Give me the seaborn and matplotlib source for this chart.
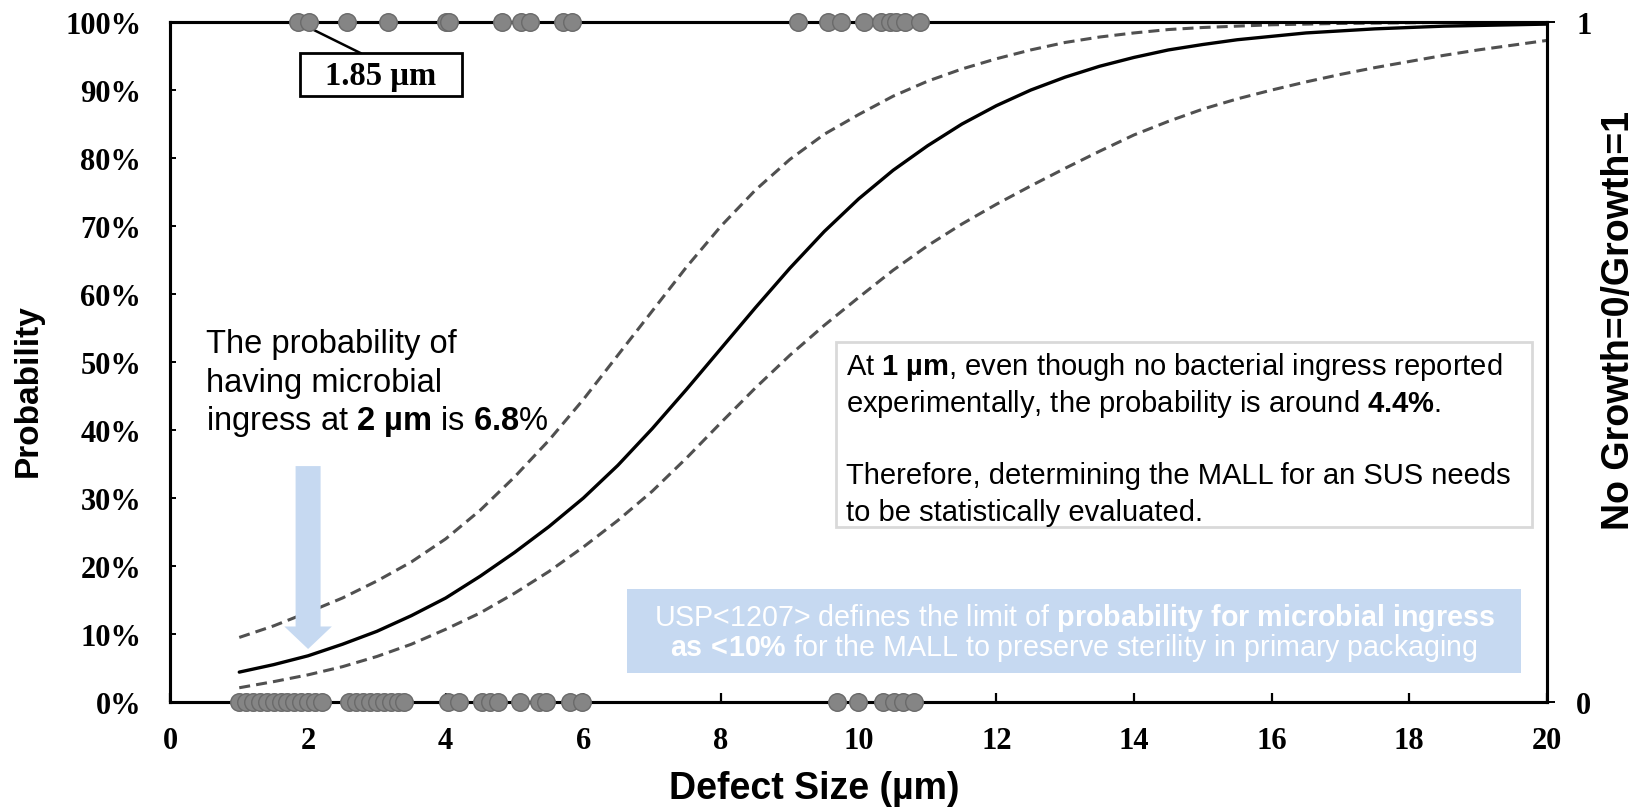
import numpy as np
import pandas as pd
import matplotlib
matplotlib.use("Agg")
import matplotlib.pyplot as plt
import seaborn as sns
from matplotlib.patches import Rectangle

# ---------------- data ----------------
defect_size = [1.0, 1.5, 2.0, 2.5, 3.0, 3.5, 4.0, 4.5, 5.0, 5.5, 6.0, 6.5, 7.0, 7.5,
               8.0, 8.5, 9.0, 9.5, 10.0, 10.5, 11.0, 11.5, 12.0, 12.5, 13.0, 13.5,
               14.0, 14.5, 15.0, 15.5, 16.0, 16.5, 17.0, 17.5, 18.0, 18.5, 19.0,
               19.5, 20.0]
prob_fit = [4.4, 5.5, 6.8, 8.5, 10.4, 12.7, 15.3, 18.5, 22.0, 25.8, 30.0, 34.8,
            40.2, 46.0, 52.0, 58.0, 63.8, 69.2, 74.0, 78.2, 81.8, 85.0, 87.7,
            90.0, 91.9, 93.5, 94.8, 95.9, 96.7, 97.4, 97.9, 98.4, 98.7, 99.0,
            99.2, 99.4, 99.5, 99.6, 99.7]
prob_upper = [9.5, 11.2, 13.2, 15.3, 17.8, 20.6, 24.0, 28.2, 33.1, 38.5, 44.5,
              51.0, 57.5, 64.0, 70.0, 75.3, 79.8, 83.5, 86.4, 89.1, 91.3, 93.1,
              94.6, 95.9, 97.0, 97.8, 98.4, 98.9, 99.2, 99.4, 99.6, 99.7, 99.8,
              99.85, 99.9, 99.95, 100.0, 100.0, 100.0]
prob_lower = [2.1, 3.0, 4.0, 5.2, 6.7, 8.5, 10.7, 13.1, 16.0, 19.2, 22.8, 26.7,
              31.0, 35.9, 41.1, 46.2, 51.0, 55.4, 59.5, 63.5, 67.1, 70.3, 73.2,
              75.9, 78.5, 81.0, 83.4, 85.4, 87.2, 88.7, 90.0, 91.2, 92.3, 93.3,
              94.2, 95.1, 95.9, 96.6, 97.3]

growth_sizes = [1.85, 2.02, 2.56, 3.16, 4.0, 4.05, 4.82, 5.1, 5.22, 5.7, 5.84,
                9.12, 9.55, 9.75, 10.08, 10.33, 10.45, 10.54, 10.68, 10.89]
no_growth_sizes = [1.0, 1.1, 1.2, 1.3, 1.4, 1.5, 1.6, 1.7, 1.8, 1.9, 2.0, 2.1, 2.2,
                   2.6, 2.7, 2.8, 2.9, 3.0, 3.1, 3.2, 3.3, 3.4,
                   4.04, 4.19, 4.53, 4.65, 4.76, 5.08, 5.35, 5.45, 5.81, 5.98,
                   9.69, 9.99, 10.36, 10.51, 10.65, 10.8]

x_ticks = [0, 2, 4, 6, 8, 10, 12, 14, 16, 18, 20]
y_ticks = [0, 10, 20, 30, 40, 50, 60, 70, 80, 90, 100]
y2_ticks = [0, 1]

highlight_size = 1.85

left_lines = ["The probability of",
              "having microbial",
              "ingress at $\\mathbf{2\\ µm}$ is $\\mathbf{6.8}$%"]
right_lines = ["At $\\mathbf{1\\ µm}$, even though no bacterial ingress reported",
               "experimentally, the probability is around $\\mathbf{4.4\\%}$.",
               "Therefore, determining the MALL for an SUS needs",
               "to be statistically evaluated."]
usp_lines = ["USP<1207> defines the limit of $\\mathbf{probability\\ for\\ microbial\\ ingress}$",
             "$\\mathbf{as\\,<\\!10\\%}$ for the MALL to preserve sterility in primary packaging"]

# ---------------- style ----------------
sns.set_theme(style="ticks")
plt.rcParams["font.family"] = ["Liberation Sans", "DejaVu Sans"]
plt.rcParams["text.color"] = "black"
plt.rcParams["axes.labelcolor"] = "black"
plt.rcParams["mathtext.fontset"] = "custom"
plt.rcParams["mathtext.rm"] = "Liberation Sans"
plt.rcParams["mathtext.bf"] = "Liberation Sans:bold"
plt.rcParams["mathtext.it"] = "Liberation Sans:italic"

fig = plt.figure(figsize=(16.42, 8.12), dpi=100)
ax = fig.add_axes([0.1038, 0.1342, 0.8383, 0.8374])

curve_df = pd.DataFrame({"size": defect_size, "fit": prob_fit,
                         "upper": prob_upper, "lower": prob_lower})

dash = (0, (3.6, 2.0))
sns.lineplot(data=curve_df, x="size", y="upper", ax=ax, color="#505050",
             lw=2.2, linestyle=dash, zorder=3)
sns.lineplot(data=curve_df, x="size", y="lower", ax=ax, color="#505050",
             lw=2.2, linestyle=dash, zorder=3)
sns.lineplot(data=curve_df, x="size", y="fit", ax=ax, color="black",
             lw=2.4, zorder=4)

ax.set_xlim(0, 20)
ax.set_ylim(0, 100)

serif = "Liberation Serif"
ax.set_xticks(x_ticks, labels=[str(v) for v in x_ticks],
              fontfamily=serif, fontweight="bold", fontsize=22)
ax.set_yticks(y_ticks, labels=[f"{v}%" for v in y_ticks],
              fontfamily=serif, fontweight="bold", fontsize=22)
ax.tick_params(axis="x", direction="in", length=6.5, width=1.6, pad=17.5,
               colors="black", bottom=True, top=False)
ax.tick_params(axis="y", direction="in", length=4, width=1.4, pad=21,
               colors="black", left=True, right=False)

for sp in ax.spines.values():
    sp.set_visible(True)
    sp.set_color("black")
    sp.set_linewidth(2.2)

ax.set_xlabel("Defect Size (µm)", fontsize=27, fontweight="bold", va="center",
              color="black")
ax.xaxis.set_label_coords(0.468, -0.127)
ax.set_ylabel("Probability", fontsize=24, fontweight="bold", va="center",
              color="black")
ax.yaxis.set_label_coords(-0.1035, 0.46)

# secondary axis: growth outcome 0/1
ax2 = ax.twinx()
ax2.set_ylim(0, 1)
dots_df = pd.DataFrame({
    "size": growth_sizes + no_growth_sizes,
    "outcome": [1] * len(growth_sizes) + [0] * len(no_growth_sizes),
})
sns.scatterplot(data=dots_df, x="size", y="outcome", ax=ax2, s=160,
                color="#858585", edgecolor="#6a6a6a", linewidth=1.0,
                clip_on=False, zorder=6, legend=False)
ax2.set_xlim(0, 20)
ax2.set_yticks(y2_ticks, labels=[str(v) for v in y2_ticks],
               fontfamily=serif, fontweight="bold", fontsize=22)
ax2.tick_params(axis="y", direction="out", length=6, width=1.4, pad=15,
                colors="black", right=True, left=False)
for sp in ax2.spines.values():
    sp.set_visible(True)
    sp.set_color("black")
    sp.set_linewidth(2.2)
ax2.set_ylabel("No Growth=0/Growth=1", fontsize=27, fontweight="bold",
               va="center", rotation=90, color="black")
ax2.yaxis.set_label_coords(1.052, 0.563)

# ---------------- annotations ----------------
# 1.85 µm callout
ax.annotate("", xy=(highlight_size, 100), xytext=(2.77, 95.4),
            arrowprops=dict(arrowstyle="-", lw=1.8, color="black",
                            shrinkA=0, shrinkB=0),
            annotation_clip=False, zorder=5)
ax.add_patch(Rectangle((1.878, 89.16), 2.355, 6.28, facecolor="white",
                       edgecolor="black", lw=2.0, zorder=5, clip_on=False))
ax.text(3.055, 92.2, f"{highlight_size} µm", fontfamily=serif,
        fontweight="bold", fontsize=23.5, ha="center", va="center", zorder=6)

# left explanatory text + arrow
for line, yb in zip(left_lines, [51.43, 45.78, 40.15]):
    ax.text(0.516, yb, line, fontsize=23.5, color="black", ha="left",
            va="baseline", zorder=5)
ax.annotate("", xy=(2.0, 7.8), xytext=(2.0, 34.7),
            arrowprops=dict(arrowstyle="simple,head_length=0.9,head_width=1.9,tail_width=1.0",
                            mutation_scale=18, color="#c6d9f1", lw=0,
                            shrinkA=0, shrinkB=0),
            zorder=5)

# right text box
ax.add_patch(Rectangle((9.665, 25.7), 10.125, 27.2, facecolor="white",
                       edgecolor="#d9d9d9", lw=2.0, zorder=5))
for line, yb in zip(right_lines, [48.2, 42.8, 32.2, 26.8]):
    ax.text(9.81, yb, line, fontsize=21, color="black", ha="left",
            va="baseline", zorder=6)

# bottom USP box
ax.add_patch(Rectangle((6.63, 4.3), 13.0, 12.3, facecolor="#c6d9f1",
                       edgecolor="none", zorder=5))
for line, yb in zip(usp_lines, [11.3, 6.9]):
    ax.text(13.13, yb, line, fontsize=20.6, color="white", ha="center",
            va="baseline", zorder=6)

fig.savefig("out.png", dpi=100)
